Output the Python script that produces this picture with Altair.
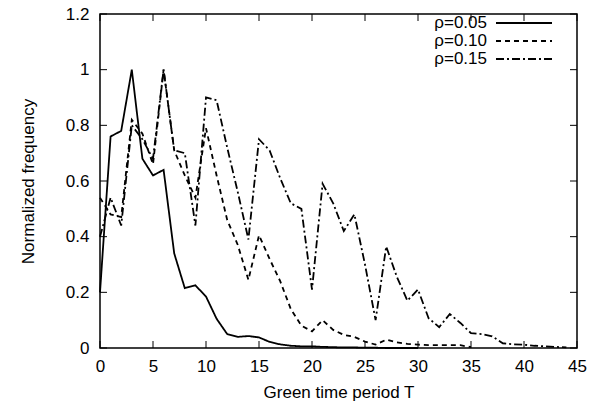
import altair as alt
import pandas as pd

# ---- data ----
names = ["ρ=0.05", "ρ=0.10", "ρ=0.15"]

rho05 = [0.20, 0.76, 0.78, 1.00, 0.68, 0.62, 0.64, 0.34, 0.215, 0.225,
         0.185, 0.105, 0.05, 0.04, 0.043, 0.038, 0.022, 0.013, 0.008, 0.006,
         0.006, 0.004, 0.003, 0.002, 0.002, 0.001, 0.001, 0.0, 0.0, 0.0, 0.0]

rho10 = [0.54, 0.48, 0.47, 0.82, 0.77, 0.66, 1.00, 0.71, 0.62, 0.54,
         0.79, 0.62, 0.46, 0.37, 0.245, 0.405, 0.32, 0.24, 0.14, 0.08,
         0.06, 0.10, 0.065, 0.047, 0.04, 0.023, 0.012, 0.03, 0.02, 0.015,
         0.012, 0.01, 0.01, 0.01, 0.01, 0.003]

rho15 = [0.40, 0.54, 0.44, 0.80, 0.75, 0.68, 1.00, 0.71, 0.70, 0.44,
         0.90, 0.89, 0.72, 0.56, 0.39, 0.75, 0.71, 0.61, 0.52, 0.50,
         0.21, 0.59, 0.52, 0.42, 0.48, 0.30, 0.10, 0.365, 0.256, 0.17,
         0.21, 0.107, 0.075, 0.122, 0.09, 0.053, 0.05, 0.042, 0.017, 0.013,
         0.012, 0.008, 0.006, 0.004, 0.002]

x_ticks = [0, 5, 10, 15, 20, 25, 30, 35, 40, 45]
y_ticks = [0, 0.2, 0.4, 0.6, 0.8, 1.0, 1.2]

series = [rho05, rho10, rho15]
dashes = [[1, 0], [5, 4], [8, 3, 2, 3]]

rows = []
for name, vals in zip(names, series):
    for t, v in enumerate(vals):
        rows.append({"T": t, "value": v, "series": name})
df = pd.DataFrame(rows)

W, H = 477, 334
FONT = "Liberation Sans"
FS = 17

xscale = alt.Scale(domain=[0, 45], nice=False, zero=False)
yscale = alt.Scale(domain=[0, 1.2], nice=False, zero=False)
xaxis = alt.Axis(values=x_ticks, title="Green time period T",
                 ticks=False, domain=False, grid=False, labelFlush=False,
                 labelPadding=10, titlePadding=10)
yaxis = alt.Axis(values=y_ticks, title="Normalized frequency",
                 format="~g", ticks=False, domain=False, grid=False,
                 labelFlush=False, labelPadding=11, titlePadding=28)

lines = alt.Chart(df).mark_line(color="black", strokeWidth=1.8).encode(
    x=alt.X("T:Q", scale=xscale, axis=xaxis),
    y=alt.Y("value:Q", scale=yscale, axis=yaxis),
    strokeDash=alt.StrokeDash("series:N",
                              scale=alt.Scale(domain=names, range=dashes),
                              legend=None),
    detail="series:N",
)

xt = pd.DataFrame({"t": x_ticks})
yt = pd.DataFrame({"t": y_ticks})
TL = 7
tick_layers = [
    alt.Chart(xt).mark_rule(color="black", strokeWidth=1).encode(
        x=alt.X("t:Q", scale=xscale, axis=xaxis), y=alt.value(H), y2=alt.value(H - TL)),
    alt.Chart(xt).mark_rule(color="black", strokeWidth=1).encode(
        x=alt.X("t:Q", scale=xscale, axis=xaxis), y=alt.value(0), y2=alt.value(TL)),
    alt.Chart(yt).mark_rule(color="black", strokeWidth=1).encode(
        y=alt.Y("t:Q", scale=yscale, axis=yaxis), x=alt.value(0), x2=alt.value(TL)),
    alt.Chart(yt).mark_rule(color="black", strokeWidth=1).encode(
        y=alt.Y("t:Q", scale=yscale, axis=yaxis), x=alt.value(W), x2=alt.value(W - TL)),
]

legend_layers = []
for i, (name, d) in enumerate(zip(names, dashes)):
    yy = 9 + 18 * i
    ld = pd.DataFrame({"label": [name]})
    legend_layers.append(
        alt.Chart(ld).mark_text(align="right", baseline="middle", font=FONT,
                                fontSize=FS, color="black").encode(
            text="label:N", x=alt.value(387), y=alt.value(yy)))
    legend_layers.append(
        alt.Chart(ld).mark_rule(color="black", strokeWidth=1.8, strokeDash=d).encode(
            x=alt.value(396), x2=alt.value(452), y=alt.value(yy)))

chart = alt.layer(lines, *tick_layers, *legend_layers).properties(
    width=W, height=H,
    background="white",
    autosize=alt.AutoSizeParams(type="none"),
    padding={"left": 92, "top": 6, "right": 12, "bottom": 58},
).configure_view(
    stroke="black", strokeWidth=1.5
).configure_axis(
    labelFont=FONT, labelFontSize=FS, labelColor="black",
    titleFont=FONT, titleFontSize=FS, titleColor="black", titleFontWeight="normal",
)

chart.save("out.html", embed_options={"renderer": "svg", "actions": False})
